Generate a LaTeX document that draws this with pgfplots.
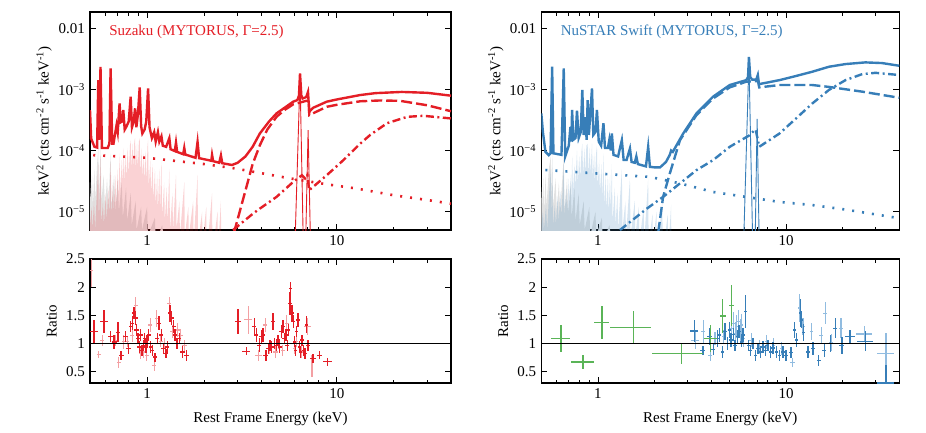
\documentclass[border=0pt]{standalone}
\usepackage{pgfplots}
\pgfplotsset{compat=1.18}
\usepackage{pgfplotstable}
\usepackage{fontspec}
\setmainfont{Liberation Serif}
\definecolor{sred}{RGB}{228,30,38}
\definecolor{sblue}{RGB}{55,126,184}
\definecolor{sgreen}{RGB}{90,180,87}
\definecolor{lred}{RGB}{243,160,163}
\definecolor{lblue}{RGB}{145,188,224}
\definecolor{shgray}{RGB}{226,226,226}

\pgfplotstableread{
x y ex ey
0.524 1.21 0.05 0.2
0.592 1.39 0.05 0.2
0.643 1.12 0.03 0.1
0.670 1.03 0.03 0.12
0.703 1.20 0.03 0.18
0.730 0.79 0.03 0.08
0.770 1.12 0.03 0.1
0.800 0.91 0.03 0.1
0.820 1.30 0.025 0.1
0.836 1.36 0.025 0.12
0.854 1.54 0.025 0.1
0.870 1.45 0.025 0.12
0.880 1.24 0.025 0.1
0.896 1.09 0.025 0.1
0.910 0.94 0.025 0.1
0.926 1.15 0.025 0.1
0.940 0.88 0.025 0.1
0.955 0.97 0.025 0.1
0.970 1.09 0.025 0.1
0.988 0.94 0.025 0.1
1.000 1.06 0.025 0.1
1.020 1.15 0.025 0.1
1.045 0.94 0.025 0.1
1.067 0.88 0.025 0.1
1.100 0.76 0.025 0.08
1.134 1.09 0.025 0.1
1.157 1.36 0.025 0.12
1.190 1.15 0.025 0.1
1.220 0.91 0.025 0.1
1.255 0.82 0.025 0.08
1.280 0.94 0.025 0.1
1.320 1.54 0.025 0.15
1.345 1.45 0.025 0.12
1.380 1.30 0.025 0.12
1.400 1.15 0.025 0.1
1.440 1.00 0.025 0.1
1.480 1.09 0.025 0.1
1.540 0.85 0.03 0.1
1.610 0.79 0.03 0.1
3.02 1.39 0.04 0.22
3.34 0.86 0.05 0.07
3.67 1.30 0.025 0.15
3.77 1.15 0.025 0.12
3.90 0.97 0.025 0.12
4.00 1.12 0.025 0.12
4.09 1.15 0.025 0.12
4.23 0.79 0.03 0.1
4.35 0.91 0.025 0.1
4.44 0.97 0.025 0.1
4.53 0.94 0.025 0.1
4.62 1.39 0.025 0.15
4.71 1.00 0.025 0.1
4.80 0.97 0.025 0.1
4.90 1.06 0.025 0.1
5.00 0.94 0.025 0.1
5.10 1.21 0.025 0.12
5.20 1.30 0.025 0.12
5.30 1.09 0.025 0.1
5.40 1.15 0.025 0.1
5.48 0.97 0.025 0.1
5.55 1.24 0.025 0.1
5.67 1.71 0.02 0.2
5.72 1.98 0.02 0.12
5.80 1.54 0.02 0.15
5.90 1.39 0.02 0.12
5.98 1.03 0.02 0.1
6.06 0.88 0.02 0.1
6.15 1.21 0.02 0.1
6.25 1.42 0.02 0.12
6.35 0.94 0.02 0.1
6.45 0.85 0.02 0.1
6.55 1.06 0.02 0.1
6.68 0.88 0.02 0.1
6.80 0.82 0.02 0.1
6.93 1.33 0.02 0.15
7.05 0.97 0.02 0.1
7.50 0.73 0.04 0.08
8.10 0.79 0.03 0.07
8.95 0.68 0.05 0.07
}\suzA

\pgfplotstableread{
x y ex ey
0.51 2.3 0.015 0.3
0.557 0.81 0.025 0.06
0.580 1.06 0.025 0.1
0.684 1.06 0.025 0.1
0.710 0.67 0.025 0.1
0.755 1.03 0.025 0.12
0.787 1.03 0.025 0.1
0.836 1.15 0.025 0.12
0.870 1.68 0.025 0.15
0.926 0.82 0.025 0.1
0.960 0.85 0.025 0.1
0.994 0.79 0.025 0.1
1.04 1.33 0.025 0.12
1.09 0.61 0.025 0.1
1.125 1.45 0.025 0.15
1.18 1.03 0.025 0.1
1.23 1.00 0.025 0.1
1.31 1.71 0.025 0.12
1.36 1.21 0.025 0.12
1.45 1.24 0.025 0.12
1.50 1.15 0.025 0.1
1.57 0.97 0.03 0.1
3.41 1.42 0.05 0.25
3.87 0.79 0.04 0.1
4.20 1.33 0.025 0.12
4.40 0.91 0.025 0.1
4.75 0.85 0.025 0.1
4.95 1.00 0.025 0.1
5.20 0.88 0.025 0.1
5.45 1.36 0.025 0.15
5.98 0.91 0.02 0.1
6.15 1.03 0.02 0.1
6.50 0.85 0.02 0.1
7.00 1.30 0.04 0.15
7.40 0.60 0.015 0.2
}\suzB

\pgfplotstableread{
x y ex ey
0.637 1.09 0.12 0.24
0.833 0.67 0.14 0.12
1.05 1.375 0.095 0.3
1.54 1.29 0.25 0.29
2.78 0.82 0.3 0.18
3.98 1.09 0.075 0.24
4.61 1.49 0.035 0.3
5.14 1.68 0.035 0.36
}\swift

\pgfplotstableread{
x y ex ey
3.25 1.22 0.05 0.2
3.61 0.88 0.03 0.08
3.92 1.13 0.025 0.15
4.11 0.89 0.025 0.1
4.32 1.09 0.02 0.15
4.43 1.15 0.02 0.12
4.59 0.85 0.02 0.1
4.74 1.21 0.02 0.15
4.88 1.00 0.02 0.12
5.00 1.24 0.02 0.15
5.10 1.06 0.02 0.12
5.25 1.16 0.02 0.12
5.36 0.97 0.02 0.1
5.50 1.12 0.02 0.12
5.63 1.21 0.02 0.12
5.80 1.03 0.02 0.1
5.90 1.15 0.02 0.12
6.07 1.57 0.02 0.3
6.30 0.97 0.02 0.1
6.47 0.88 0.02 0.1
6.68 1.00 0.02 0.1
6.90 0.79 0.02 0.1
7.10 0.91 0.02 0.1
7.33 0.85 0.02 0.1
7.54 0.94 0.02 0.1
7.78 0.88 0.02 0.1
8.00 0.97 0.02 0.1
8.26 0.85 0.02 0.1
8.53 0.92 0.02 0.1
8.88 0.85 0.02 0.1
9.25 0.79 0.02 0.1
9.63 0.85 0.02 0.1
10.0 0.79 0.02 0.1
10.6 0.84 0.025 0.1
11.1 1.24 0.02 0.15
11.4 1.06 0.02 0.12
11.9 1.54 0.02 0.25
12.1 1.42 0.02 0.15
12.4 1.20 0.02 0.15
13.1 0.85 0.025 0.1
13.9 0.91 0.025 0.12
14.9 0.70 0.025 0.1
16.0 0.88 0.025 0.12
17.2 1.00 0.025 0.15
18.3 1.27 0.025 0.18
19.8 0.97 0.03 0.15
21.9 1.12 0.06 0.12
26.4 1.04 0.1 0.18
34.0 0.30 0.1 0.32
}\fpmA

\pgfplotstableread{
x y ex ey
3.30 1.06 0.05 0.15
3.64 1.21 0.025 0.2
3.95 0.79 0.025 0.1
4.19 1.09 0.025 0.12
4.65 1.12 0.02 0.12
5.14 1.27 0.02 0.2
5.25 1.36 0.02 0.2
5.36 1.18 0.02 0.2
5.47 1.30 0.02 0.2
5.58 1.39 0.02 0.2
5.70 1.24 0.02 0.2
5.80 1.33 0.02 0.2
5.92 1.09 0.02 0.15
6.52 1.06 0.02 0.12
7.24 0.94 0.02 0.12
7.86 1.03 0.02 0.12
8.60 0.97 0.02 0.12
9.44 0.91 0.02 0.12
10.8 0.66 0.03 0.08
11.8 1.63 0.02 0.25
12.3 1.30 0.02 0.15
13.6 1.22 0.02 0.15
15.4 1.15 0.025 0.15
16.2 1.54 0.025 0.2
17.4 1.02 0.025 0.15
19.6 1.27 0.03 0.18
26.1 1.17 0.1 0.15
34.0 0.83 0.1 0.35
}\fpmB

\tikzset{
  myThick/.style={line width=2.4pt},
  myDashed/.style={line width=2.4pt, dash pattern=on 11pt off 4pt},
  myDot/.style={line width=2.6pt, dash pattern=on 2pt off 8pt},
  myDashDot/.style={line width=2.4pt, dash pattern=on 8pt off 3.5pt on 2pt off 3.5pt},
}
\pgfplotsset{
  every axis/.append style={
    scale only axis,
    xmin=0.5, xmax=40,
    xtick={1,10}, xticklabels={1,10},
    minor xtick={0.6,0.7,0.8,0.9,2,3,4,5,6,7,8,9,20,30},
    tick align=inside,
    major tick length=6pt, minor tick length=3.5pt,
    axis line style={line width=1.1pt},
    yminorticks=false,
    tick label style={font=\fontsize{15}{18}\selectfont},
    label style={font=\fontsize{15}{18}\selectfont},
  },
  every tick/.style={black, line width=0.8pt},
  errs/.style={only marks, mark=*, mark size=0.1pt,
    mark options={draw opacity=0, fill opacity=0}, forget plot,
    error bars/.cd, x dir=both, x explicit relative, y dir=both, y explicit,
    error mark=none, error bar style={line width=#1, solid}},
}

\begin{document}
\fontsize{15}{18}\selectfont
\begin{tikzpicture}
\path[use as bounding box] (0pt,0pt) rectangle (926pt,-432pt);

% ---------------- top left: Suzaku
\begin{axis}[xmode=log, ymode=log,
    width=361pt, height=218pt, at={(90pt,-12pt)}, anchor=north west,
    ymin=5e-6, ymax=0.0185,
    ytick={1e-5,1e-4,1e-3,1e-2},
    yticklabels={10\textsuperscript{−5},10\textsuperscript{−4},10\textsuperscript{−3},0.01},
    ylabel={keV\textsuperscript{2} (cts cm\textsuperscript{-2} s\textsuperscript{-1} keV\textsuperscript{-1})},
    ylabel style={at={(axis description cs:-0.127,0.5)}, anchor=center}]
\addplot[fill=shgray, draw=none] coordinates {
(0.5,1e-6)(0.5,3e-5)(0.505,1.5e-5)(0.512,4e-5)(0.518,1.2e-5)(0.527,5e-5)(0.533,1.5e-5)(0.545,6e-5)(0.553,1.1e-4)(0.558,1.5e-5)(0.568,1.2e-4)(0.575,1.5e-5)(0.59,4e-5)(0.6,1.2e-5)(0.615,3.5e-5)(0.625,1.2e-5)(0.642,9e-5)(0.65,1.2e-5)(0.67,4e-5)(0.68,1e-5)(0.7,3.5e-5)(0.71,1e-5)(0.735,3e-5)(0.745,8e-6)(0.775,2.5e-5)(0.785,7e-6)(0.82,2e-5)(0.83,6e-6)(0.87,1.5e-5)(0.88,5e-6)(0.93,1.2e-5)(0.94,5e-6)(1.0,1.2e-5)(1.01,4e-6)(1.1,8e-6)(1.11,3e-6)(1.2,6e-6)(1.3,1e-6)};
\addplot[fill=sred, fill opacity=0.2, draw=none] coordinates {
(0.5,1e-6)(0.5,6e-6)(0.51,1.2e-5)(0.515,5e-6)(0.525,1.5e-5)(0.532,5e-6)(0.545,2.5e-5)(0.553,6e-5)(0.557,6e-6)(0.568,8e-5)(0.574,6e-6)(0.585,1.5e-5)(0.592,6e-6)(0.605,2e-5)(0.612,7e-6)(0.625,2.5e-5)(0.632,8e-6)(0.642,7e-5)(0.648,8e-6)(0.66,3e-5)(0.668,1e-5)(0.68,4e-5)(0.688,1.2e-5)(0.70,5e-5)(0.707,1.5e-5)(0.716,9e-5)(0.722,2e-5)(0.735,7e-5)(0.742,2.5e-5)(0.749,1.1e-4)(0.756,3e-5)(0.768,9e-5)(0.776,3.5e-5)(0.79,1.1e-4)(0.80,4e-5)(0.812,1.2e-4)(0.819,1.5e-4)(0.826,5e-5)(0.838,1.3e-4)(0.846,5e-5)(0.856,1.4e-4)(0.864,1.6e-4)(0.872,5e-5)(0.885,1.3e-4)(0.893,5e-5)(0.905,1.4e-4)(0.914,1.6e-4)(0.922,4e-5)(0.935,1.1e-4)(0.943,3.5e-5)(0.957,9e-5)(0.965,3e-5)(0.98,1e-4)(0.99,3e-5)(1.005,1.2e-4)(1.012,1.5e-4)(1.02,2.5e-5)(1.04,7e-5)(1.05,2e-5)(1.07,6e-5)(1.08,1.5e-5)(1.1,5e-5)(1.11,1.2e-5)(1.13,4e-5)(1.14,1e-5)(1.16,5e-5)(1.17,1e-5)(1.19,7e-5)(1.2,8e-6)(1.23,3e-5)(1.24,7e-6)(1.27,2.5e-5)(1.28,6e-6)(1.31,5e-5)(1.32,5e-6)(1.36,2e-5)(1.37,5e-6)(1.42,4e-5)(1.43,5e-6)(1.48,1.5e-5)(1.49,4e-6)(1.57,3e-5)(1.58,4e-6)(1.65,1.2e-5)(1.66,4e-6)(1.75,1.5e-5)(1.76,3e-6)(1.845,4e-5)(1.855,3e-6)(1.95,1e-5)(1.96,3e-6)(2.05,1.2e-5)(2.06,2e-6)(2.2,2e-5)(2.21,2e-6)(2.35,1e-5)(2.36,2e-6)(2.45,1.5e-5)(2.46,1e-6)};
\addplot[sred, myDot] coordinates {(0.52,8.4e-5)(1,7.6e-5)(2,6.0e-5)(2.9,5.1e-5)(4.09,4.2e-5)(5.66,3.5e-5)(8.85,2.8e-5)(12.8,2.38e-5)(20,1.85e-5)(30,1.55e-5)(40,1.35e-5)};
\addplot[sred, myDashDot] coordinates {(2.84,5e-6)(3.62,9.3e-6)(3.93,1.12e-5)(4.81,1.74e-5)(5.89,3.06e-5)(6.3,3.6e-5)(6.55,3.94e-5)(6.8,3.5e-5)(7.0,4e-5)(7.15,2.24e-5)(8.85,3.94e-5)(10.8,6.9e-5)(13.3,1.3e-4)(15,1.8e-4)(18.4,2.8e-4)(23.5,3.56e-4)(28.6,3.7e-4)(40,3.35e-4)};
\addplot[sred, myDashed] coordinates {(2.87,4.5e-6)(3.34,2.54e-5)(3.6,6e-5)(3.93,1.22e-4)(4.3,2.2e-4)(4.81,3.56e-4)(5.3,4.6e-4)(5.89,5.7e-4)(6.9,6.5e-4)(7.12,6.5e-4)(7.16,3.8e-4)(8.85,5.2e-4)(10,5.6e-4)(13.3,6.4e-4)(17,6.6e-4)(21.6,6.5e-4)(30,5.5e-4)(40,4.4e-4)};
\addplot[sred, line width=0.9pt] coordinates {(6.02,3e-6)(6.4,1.6e-3)(6.66,3e-6)};
\addplot[sred, line width=0.9pt] coordinates {(6.85,3e-6)(7.06,2.15e-4)(7.27,3e-6)};
\addplot[sred, myThick] coordinates {
(0.5,4.6e-4)(0.507,1.57e-4)(0.528,1.15e-4)(0.545,1.12e-4)(0.553,1.42e-3)(0.558,1.5e-4)(0.568,2.34e-3)(0.578,1.1e-4)(0.62,1.1e-4)(0.633,1.3e-4)(0.642,2.2e-3)(0.655,1.3e-4)(0.665,1.3e-4)(0.69,2.6e-4)(0.70,2.0e-4)(0.716,5.9e-4)(0.726,2.9e-4)(0.74,3.0e-4)(0.749,4.6e-4)(0.762,2.2e-4)(0.78,2.5e-4)(0.80,3.0e-4)(0.819,7.6e-4)(0.832,2.4e-4)(0.85,3.0e-4)(0.864,4.9e-4)(0.878,2.4e-4)(0.895,4e-4)(0.914,1.08e-3)(0.93,2.5e-4)(0.944,1.9e-4)(0.97,2.2e-4)(0.99,3e-4)(1.012,1.04e-3)(1.03,2.4e-4)(1.06,1.6e-4)(1.09,2.0e-4)(1.11,1.4e-4)(1.14,2.0e-4)(1.16,1.4e-4)(1.19,1.71e-4)(1.21,1.2e-4)(1.26,1.15e-4)(1.31,1.6e-4)(1.33,1.05e-4)(1.40,9.8e-5)(1.42,1.35e-4)(1.44,9.5e-5)(1.55,8.7e-5)(1.57,1.1e-4)(1.59,8.6e-5)(1.80,7.6e-5)(1.845,1.38e-4)(1.88,7.5e-5)(2.0,7.2e-5)(2.18,6.8e-5)(2.20,8.5e-5)(2.23,6.7e-5)(2.40,6.3e-5)(2.45,8.3e-5)(2.49,6.2e-5)(2.8,5.8e-5)(3.0,6.3e-5)(3.3,8.0e-5)(3.6,1.15e-4)(3.93,1.9e-4)(4.4,3.0e-4)(4.81,4.05e-4)(5.3,5.0e-4)(5.89,6.3e-4)(6.2,6.7e-4)(6.32,8e-4)(6.4,1.83e-3)(6.5,8e-4)(6.6,7.1e-4)(6.9,7.5e-4)(7.05,9.1e-4)(7.16,4.3e-4)(7.5,5e-4)(8.85,6.3e-4)(10,6.85e-4)(13.3,8.1e-4)(16,8.7e-4)(22,9.1e-4)(30,8.8e-4)(40,7.9e-4)};
\node[anchor=west, text=sred] at (rel axis cs:0.039,0.908) {Suzaku (MYTORUS, Γ=2.5)};
\end{axis}

% ---------------- bottom left
\begin{axis}[xmode=log,
    width=361pt, height=124pt, at={(90pt,-259pt)}, anchor=north west,
    ymin=0.3, ymax=2.5,
    ytick={0.5,1,1.5,2,2.5}, yticklabels={0.5,1,1.5,2,2.5},
    ylabel={Ratio},
    ylabel style={at={(axis description cs:-0.106,0.5)}, anchor=center},
    xlabel={Rest Frame Energy (keV)},
    xlabel style={at={(axis description cs:0.5,-0.315)}, anchor=base}]
\addplot[lred, errs=1.1pt] table[x=x,y=y,x error=ex,y error=ey] {\suzB};
\addplot[sred, errs=1.4pt] table[x=x,y=y,x error=ex,y error=ey] {\suzA};
\addplot[black, line width=1.1pt] coordinates {(0.5,1)(40,1)};
\end{axis}

% ---------------- top right: NuSTAR Swift
\begin{axis}[xmode=log, ymode=log,
    width=358pt, height=218pt, at={(541.3pt,-12pt)}, anchor=north west,
    ymin=5e-6, ymax=0.0185,
    ytick={1e-5,1e-4,1e-3,1e-2},
    yticklabels={10\textsuperscript{−5},10\textsuperscript{−4},10\textsuperscript{−3},0.01},
    ylabel={keV\textsuperscript{2} (cts cm\textsuperscript{-2} s\textsuperscript{-1} keV\textsuperscript{-1})},
    ylabel style={at={(axis description cs:-0.127,0.5)}, anchor=center}]
\addplot[fill=shgray, draw=none] coordinates {
(0.5,1e-6)(0.5,2.5e-5)(0.505,1.2e-5)(0.512,3.5e-5)(0.518,1e-5)(0.527,4e-5)(0.533,1.2e-5)(0.548,5e-5)(0.562,8e-5)(0.566,1.2e-5)(0.571,9e-5)(0.578,1.2e-5)(0.595,3.5e-5)(0.605,1e-5)(0.62,3e-5)(0.63,1e-5)(0.658,8e-5)(0.665,1e-5)(0.685,3.5e-5)(0.695,9e-6)(0.715,3e-5)(0.725,8e-6)(0.75,2.5e-5)(0.76,7e-6)(0.79,2e-5)(0.8,6e-6)(0.84,1.5e-5)(0.85,5e-6)(0.9,1.2e-5)(0.91,4e-6)(0.97,1e-5)(0.98,4e-6)(1.05,8e-6)(1.06,3e-6)(1.15,6e-6)(1.25,1e-6)};
\addplot[fill=sblue, fill opacity=0.2, draw=none] coordinates {
(0.5,1e-6)(0.5,6e-6)(0.51,1e-5)(0.516,5e-6)(0.53,1.3e-5)(0.537,5e-6)(0.55,2e-5)(0.562,5e-5)(0.566,6e-6)(0.571,7e-5)(0.577,6e-6)(0.59,1.3e-5)(0.598,6e-6)(0.61,1.8e-5)(0.618,7e-6)(0.632,2.2e-5)(0.64,8e-6)(0.658,6e-5)(0.664,8e-6)(0.678,2.5e-5)(0.686,1e-5)(0.7,3.5e-5)(0.707,1.2e-5)(0.714,4e-5)(0.72,1.5e-5)(0.73,8e-5)(0.737,2e-5)(0.75,6e-5)(0.757,2.5e-5)(0.774,1e-4)(0.782,3e-5)(0.796,8e-5)(0.805,3.5e-5)(0.818,1e-4)(0.826,1.3e-4)(0.834,4e-5)(0.848,1.1e-4)(0.856,4e-5)(0.868,1.2e-4)(0.882,1.3e-4)(0.89,4e-5)(0.905,1.1e-4)(0.913,4e-5)(0.93,1.3e-4)(0.938,3.5e-5)(0.955,9e-5)(0.963,3e-5)(0.978,9e-5)(0.988,1.2e-4)(0.996,2.5e-5)(1.015,7e-5)(1.025,2e-5)(1.045,6e-5)(1.055,1.5e-5)(1.07,9e-5)(1.08,1.2e-5)(1.1,4e-5)(1.11,1e-5)(1.13,4e-5)(1.14,9e-6)(1.16,4e-5)(1.17,9e-6)(1.186,6e-5)(1.196,7e-6)(1.23,2.5e-5)(1.24,6e-6)(1.27,2e-5)(1.28,5e-6)(1.34,5e-5)(1.35,5e-6)(1.4,1.5e-5)(1.41,4e-6)(1.48,3.5e-5)(1.49,4e-6)(1.57,1.5e-5)(1.58,4e-6)(1.65,1.2e-5)(1.66,3e-6)(1.75,1.2e-5)(1.76,3e-6)(1.85,3.5e-5)(1.86,3e-6)(1.95,9e-6)(1.96,3e-6)(2.05,1e-5)(2.06,2e-6)(2.2,1.5e-5)(2.21,2e-6)(2.35,9e-6)(2.36,2e-6)(2.45,1.3e-5)(2.46,1e-6)};
\addplot[sblue, myDot] coordinates {(0.526,4.8e-5)(1,4.2e-5)(1.89,3.7e-5)(2.73,2.9e-5)(4.09,2.1e-5)(6.15,1.74e-5)(9.23,1.44e-5)(13.8,1.28e-5)(20.7,1.08e-5)(40,7.8e-6)};
\addplot[sblue, myDashDot] coordinates {(1.31,5e-6)(1.82,1.12e-5)(2.22,1.74e-5)(2.73,2.9e-5)(3.34,4.77e-5)(4.09,6.95e-5)(5.02,1.15e-4)(6.4,1.78e-4)(6.8,2.15e-4)(6.9,2.2e-4)(7.2,1.15e-4)(9.23,1.9e-4)(11.3,3.35e-4)(13.8,5.9e-4)(16.9,9.8e-4)(20.7,1.42e-3)(25.4,1.78e-3)(29.9,1.87e-3)(40,1.72e-3)};
\addplot[sblue, myDashed] coordinates {(2.09,4.5e-6)(2.22,1.74e-5)(2.41,4.2e-5)(2.73,1.48e-4)(3.34,3.8e-4)(4.09,7.1e-4)(5.02,1.08e-3)(6.15,1.34e-3)(7.1,1.37e-3)(7.2,1.08e-3)(9.23,1.18e-3)(13.8,1.18e-3)(16.9,1.1e-3)(25.4,9.2e-4)(40,7.3e-4)};
\addplot[sblue, line width=0.9pt] coordinates {(5.95,3e-6)(6.35,3e-3)(6.65,3e-6)};
\addplot[sblue, line width=0.9pt] coordinates {(6.85,3e-6)(7.02,3.3e-4)(7.2,3e-6)};
\addplot[sblue, myThick] coordinates {
(0.5,4.05e-4)(0.51,2e-4)(0.526,9.5e-5)(0.548,8.4e-5)(0.56,9e-5)(0.571,2.35e-3)(0.58,9e-5)(0.64,8.5e-5)(0.658,2.2e-3)(0.67,8e-5)(0.70,1.2e-4)(0.714,2.44e-4)(0.722,1.4e-4)(0.729,4.6e-4)(0.74,1.5e-4)(0.76,1.6e-4)(0.774,4.5e-4)(0.79,1.6e-4)(0.81,2e-4)(0.826,9.8e-4)(0.84,1.8e-4)(0.862,3.5e-4)(0.87,1.5e-4)(0.882,6.7e-4)(0.895,1.8e-4)(0.93,1.04e-3)(0.945,1.8e-4)(0.97,2e-4)(0.988,4.6e-4)(1.01,1.4e-4)(1.04,1.2e-4)(1.07,2.8e-4)(1.09,1.1e-4)(1.13,1.1e-4)(1.15,1.5e-4)(1.17,1.0e-4)(1.186,1.9e-4)(1.21,8.5e-5)(1.28,8e-5)(1.31,1.1e-4)(1.34,1.48e-4)(1.37,7e-5)(1.42,7e-5)(1.48,1.08e-4)(1.51,6.5e-5)(1.57,6.3e-5)(1.6,8e-5)(1.63,6e-5)(1.80,5.5e-5)(1.85,1.15e-4)(1.89,5.4e-5)(2.0,5.3e-5)(2.14,5.3e-5)(2.3,6.5e-5)(2.41,8.5e-5)(2.45,1.0e-4)(2.5,9.5e-5)(2.84,1.9e-4)(3.34,4.05e-4)(4.09,7.6e-4)(5.02,1.18e-3)(6.15,1.42e-3)(6.28,1.6e-3)(6.35,3.4e-3)(6.45,1.6e-3)(6.6,1.45e-3)(6.95,1.45e-3)(7.08,1.72e-3)(7.18,1.22e-3)(9.23,1.42e-3)(11.3,1.66e-3)(13.8,1.95e-3)(16.9,2.35e-3)(20.7,2.6e-3)(26.4,2.77e-3)(32.4,2.7e-3)(40,2.44e-3)};
\node[anchor=west, text=sblue] at (rel axis cs:0.04,0.908) {NuSTAR Swift (MYTORUS, Γ=2.5)};
\end{axis}

% ---------------- bottom right
\begin{axis}[xmode=log,
    width=358pt, height=124pt, at={(541.3pt,-259pt)}, anchor=north west,
    ymin=0.3, ymax=2.5,
    ytick={0.5,1,1.5,2,2.5}, yticklabels={0.5,1,1.5,2,2.5},
    ylabel={Ratio},
    ylabel style={at={(axis description cs:-0.106,0.5)}, anchor=center},
    xlabel={Rest Frame Energy (keV)},
    xlabel style={at={(axis description cs:0.5,-0.315)}, anchor=base}]
\addplot[lblue, errs=1.1pt] table[x=x,y=y,x error=ex,y error=ey] {\fpmB};
\addplot[sblue, errs=1.4pt] table[x=x,y=y,x error=ex,y error=ey] {\fpmA};
\addplot[sgreen, errs=1.4pt] table[x=x,y=y,x error=ex,y error=ey] {\swift};
\addplot[black, line width=1.1pt] coordinates {(0.5,1)(40,1)};
\end{axis}
\end{tikzpicture}
\end{document}
